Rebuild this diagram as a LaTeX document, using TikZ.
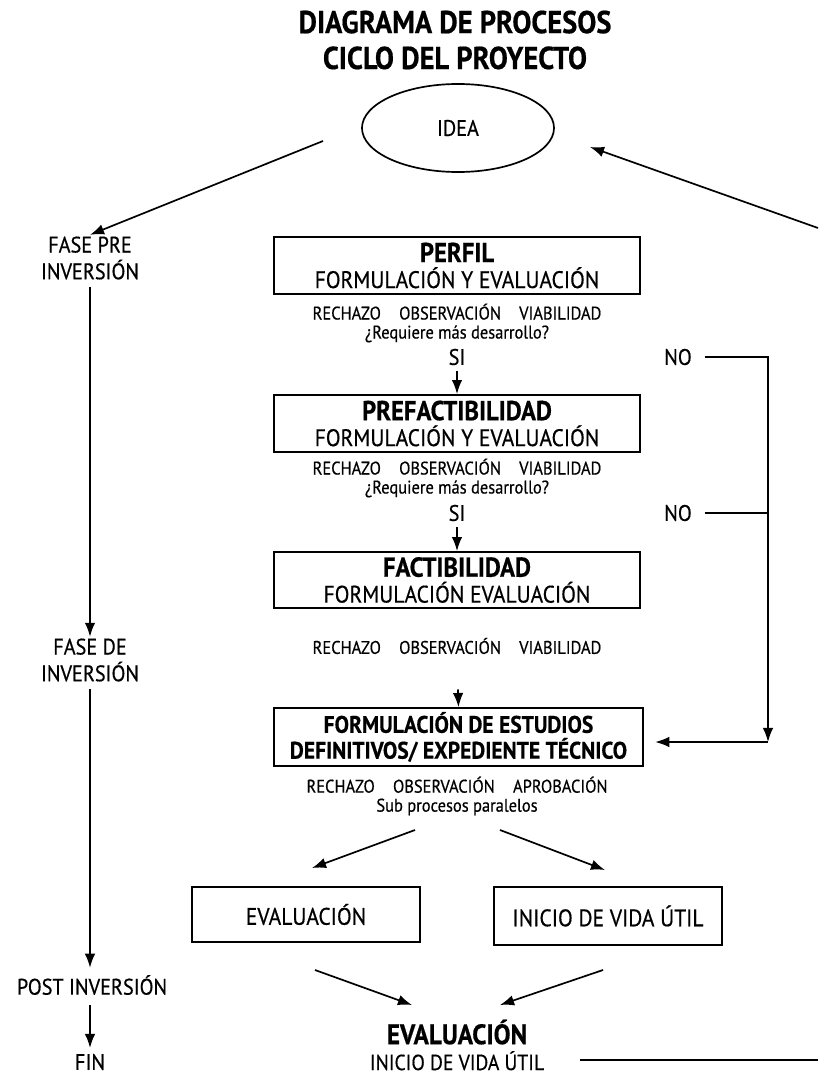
\documentclass[tikz,border=0pt]{standalone}
\usepackage{fontspec}
\setmainfont{PT Sans}[FakeStretch=0.9, UprightFeatures={FakeBold=0.5}, BoldFeatures={FakeBold=0.5}]
\usetikzlibrary{shapes.geometric,arrows.meta}
\tikzset{
  caja/.style={draw, line width=1.3pt, align=center, inner sep=0pt},
  texto/.style={align=center, inner sep=1pt},
  chico/.style={texto, font=\fontsize{13}{13.5}\selectfont},
  fase/.style={texto, font=\fontsize{16}{19}\selectfont},
  flecha/.style={line width=1.2pt, ->, >={Latex[length=10pt,width=7.5pt]}},
  linea/.style={line width=1.2pt}
}
\begin{document}
\begin{tikzpicture}[x=0.025cm, y=-0.025cm]
	\useasboundingbox (0,0) rectangle (818,1077);
	\node[texto, font=\fontsize{22.5}{25.5}\selectfont\bfseries] (titulo) at (455,40) {DIAGRAMA DE PROCESOS\\CICLO DEL PROYECTO};
	\node[draw, ellipse, line width=1.2pt, minimum width=4.8cm, minimum height=2.2cm, font=\fontsize{16}{16}\selectfont] (idea) at (458,128) {IDEA};
	% fases
	\node[fase] (fasepre) at (90,258) {FASE PRE\\INVERSIÓN};
	\node[fase] (faseinv) at (90,660) {FASE DE\\INVERSIÓN};
	\node[fase] (post) at (92,985) {POST INVERSIÓN};
	\node[fase] (fin) at (90,1062) {FIN};
	% cajas
	\node[caja, minimum width=9.15cm, minimum height=1.425cm, font=\fontsize{17}{18.4}\selectfont] (perfil) at (457,265.5) {\textbf{\fontsize{19.5}{18.4}\selectfont PERFIL}\\FORMULACIÓN Y EVALUACIÓN};
	\node[chico] (opc1) at (457,323) {RECHAZO\quad OBSERVACIÓN\quad VIABILIDAD\\¿Requiere más desarrollo?};
	\node[fase] (si1) at (457,357) {SI};
	\node[fase] (no1) at (678,357) {NO};
	\node[caja, minimum width=9.15cm, minimum height=1.425cm, font=\fontsize{17}{18.4}\selectfont] (prefact) at (457,423.5) {\textbf{\fontsize{19.5}{18.4}\selectfont PREFACTIBILIDAD}\\FORMULACIÓN Y EVALUACIÓN};
	\node[chico] (opc2) at (457,478) {RECHAZO\quad OBSERVACIÓN\quad VIABILIDAD\\¿Requiere más desarrollo?};
	\node[fase] (si2) at (457,513) {SI};
	\node[fase] (no2) at (678,513) {NO};
	\node[caja, minimum width=9.15cm, minimum height=1.4cm, font=\fontsize{17}{18.4}\selectfont] (fact) at (457,580) {\textbf{\fontsize{19.5}{18.4}\selectfont FACTIBILIDAD}\\FORMULACIÓN EVALUACIÓN};
	\node[chico] (opc3) at (457,646) {RECHAZO\quad OBSERVACIÓN\quad VIABILIDAD};
	\node[caja, minimum width=9.225cm, minimum height=1.45cm, font=\fontsize{17}{18.4}\selectfont\bfseries] (estudios) at (458.5,737) {FORMULACIÓN DE ESTUDIOS\\DEFINITIVOS/ EXPEDIENTE TÉCNICO};
	\node[chico] (opc4) at (457,796) {RECHAZO\quad OBSERVACIÓN\quad APROBACIÓN\\Sub procesos paralelos};
	\node[caja, minimum width=5.7cm, minimum height=1.375cm, font=\fontsize{17}{15}\selectfont] (evalbox) at (306,914.5) {EVALUACIÓN};
	\node[caja, line width=1.7pt, minimum width=5.7cm, minimum height=1.45cm, font=\fontsize{17}{15}\selectfont] (iniciobox) at (608,916) {INICIO DE VIDA ÚTIL};
	\node[texto, font=\fontsize{15.5}{18.4}\selectfont] (final) at (457,1045) {\textbf{\fontsize{20}{18.4}\selectfont EVALUACIÓN}\\INICIO DE VIDA ÚTIL};
	% puntos libres
	\coordinate (i1) at (323,141);
	\coordinate (i2) at (590,147);
	\coordinate (borde1) at (818,228);
	\coordinate (b0) at (580,1060);
	\coordinate (borde2) at (818,1060);
	\coordinate (esq) at (768,742);
	\coordinate (p1) at (415,830);
	\coordinate (p2) at (312,868);
	\coordinate (p3) at (500,830);
	\coordinate (p4) at (605,870);
	\coordinate (q1) at (315,970);
	\coordinate (q2) at (412,1005);
	\coordinate (q3) at (603,970);
	\coordinate (q4) at (500,1005);
	% conexiones
	\draw[flecha] (i1) -- (fasepre.north);
	\draw[flecha] (borde1) -- (i2);
	\draw[flecha, shorten <=4pt] (fasepre.south) -- (faseinv.north);
	\draw[flecha, shorten <=4pt, shorten >=4pt] (faseinv.south) -- (faseinv.south |- post.north);
	\draw[flecha, shorten <=6pt, shorten >=3pt] (fin.north |- post.south) -- (fin.north);
	\draw[flecha, shorten <=3pt] (si1.south) -- (prefact.north);
	\draw[flecha, shorten <=3pt] (si2.south) -- (fact.north);
	\draw[flecha, shorten <=24pt] (opc3.south) -- (estudios.north);
	\draw[flecha] ([xshift=8pt]no1.east) -| (esq);
	\draw[linea] ([xshift=8pt]no2.east) -- (no2.east -| esq);
	\draw[flecha, shorten >=8pt] (esq) -- (esq -| estudios.east);
	\draw[flecha] (p1) -- (p2);
	\draw[flecha] (p3) -- (p4);
	\draw[flecha] (q1) -- (q2);
	\draw[flecha] (q3) -- (q4);
	\draw[line width=2pt] (b0) -- (borde2);
\end{tikzpicture}
\end{document}
